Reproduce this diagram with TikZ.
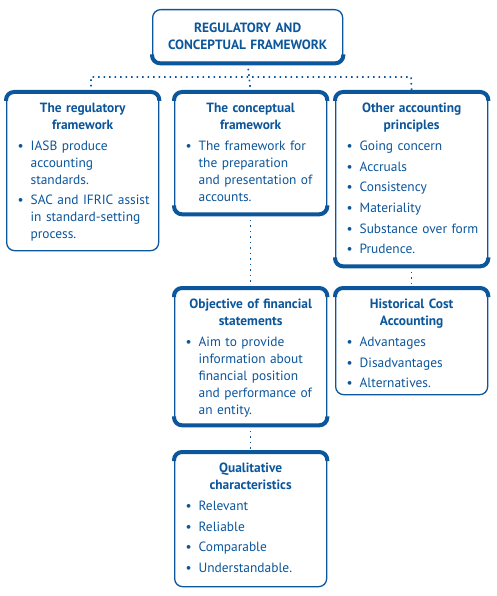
\documentclass[tikz,border=0pt]{standalone}
\usepackage{fontspec}
\setmainfont{PT Sans}
\usetikzlibrary{positioning}
\definecolor{accblue}{RGB}{12,86,156}

\tikzset{
  box/.style={draw=accblue, line width=1.3pt, rounded corners=8pt, fill=white,
    anchor=north west, inner sep=0pt, minimum width=152pt},
  heavy/.style={draw=accblue, line width=4pt, rounded corners=8pt},
  txt/.style={text=accblue, inner sep=0pt, text width=140pt, align=left,
    font=\fontsize{13.4}{17}\selectfont},
  link/.style={draw=accblue, line width=1.6pt, dash pattern=on 1.6pt off 3.9pt}
}
\newcommand\thicktop[1]{\draw[heavy] ([yshift=-9pt]#1.north west) -- (#1.north west) -- (#1.north east) -- ([yshift=-9pt]#1.north east);}
\newcommand\thickbot[1]{\draw[heavy] ([yshift=9pt]#1.south west) -- (#1.south west) -- (#1.south east) -- ([yshift=9pt]#1.south east);}
\newcommand\boxtitle[1]{{\centering\bfseries #1\par}}
\newcommand\bul[1]{\par\vspace{3.7pt}\noindent\hyphenpenalty=10000\hangindent=18pt\hangafter=1%
  \hspace*{5pt}\makebox[13pt][l]{\textbullet}#1\par}

\begin{document}
\begin{tikzpicture}[x=1pt,y=-1pt]
  \useasboundingbox (0,0) rectangle (497,596);

  % boxes
  \node[box, minimum width=190pt, minimum height=53pt] (top) at (152,9) {};
  \node[box, minimum height=158pt] (reg) at (6,92) {};
  \node[box, minimum height=121pt] (con) at (174,92) {};
  \node[box, minimum height=173pt] (oth) at (335,92) {};
  \node[box, minimum height=136pt] (obj) at (174,288) {};
  \node[box, minimum height=106pt] (hist) at (335,288) {};
  \node[box, minimum height=134pt] (qual) at (174,452) {};

  % heavy edges
  \thickbot{top}
  \thicktop{reg}
  \thicktop{con} \thickbot{con}
  \thicktop{oth} \thickbot{oth}
  \thicktop{obj} \thickbot{obj}
  \thicktop{hist}
  \thicktop{qual}

  % texts
  \node[txt, text width=186pt, align=center, font=\fontsize{13.4}{17}\selectfont\bfseries] (toptxt) at (top.center) {REGULATORY AND\\CONCEPTUAL FRAMEWORK};
  \node[txt, below=11pt of reg.north] (regtxt) {\boxtitle{The regulatory\\framework}
    \bul{IASB produce\newline accounting\newline standards.}
    \bul{SAC and IFRIC assist\newline in standard-setting\newline process.}};
  \node[txt, below=11pt of con.north] (contxt) {\boxtitle{The conceptual\\framework}
    \bul{The framework for\newline the preparation\newline and presentation of\newline accounts.}};
  \node[txt, below=11pt of oth.north] (othtxt) {\boxtitle{Other accounting\\principles}
    \bul{Going concern}
    \bul{Accruals}
    \bul{Consistency}
    \bul{Materiality}
    \bul{Substance over form}
    \bul{Prudence.}};
  \node[txt, below=11pt of obj.north] (objtxt) {\boxtitle{Objective of financial\\statements}
    \bul{Aim to provide\newline information about\newline financial position\newline and performance of\newline an entity.}};
  \node[txt, below=11pt of hist.north] (histtxt) {\boxtitle{Historical Cost\\Accounting}
    \bul{Advantages}
    \bul{Disadvantages}
    \bul{Alternatives.}};
  \node[txt, below=11pt of qual.north] (qualtxt) {\boxtitle{Qualitative\\characteristics}
    \bul{Relevant}
    \bul{Reliable}
    \bul{Comparable}
    \bul{Understandable.}};

  % dotted links
  \coordinate (busL) at (91,77);
  \coordinate (busR) at (411,77);
  \draw[link] (top.south) -- (con.north);
  \draw[link] (busL |- reg.north) -- (busL) -- (busR) -- (oth.north);
  \draw[link] (con.south) -- (obj.north);
  \draw[link] (obj.south) -- (qual.north);
  \draw[link] (oth.south) -- (hist.north);
\end{tikzpicture}
\end{document}
